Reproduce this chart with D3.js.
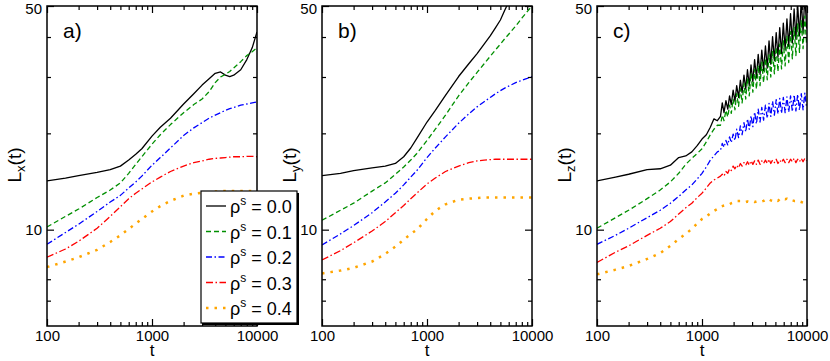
<!DOCTYPE html>
<html>
<head>
<meta charset="utf-8">
<script src="https://cdn.jsdelivr.net/npm/d3@7"></script>
<style>
  body { margin: 0; background: #fff; }
  text { font-family: "Liberation Sans", Arial, Helvetica, sans-serif; }
</style>
</head>
<body>
<div id="chart"></div>
<script>
// L(t) for several rho^s, three directions, log-log

var width = 830, height = 361;

// time grid for panels a) and b)
var tAB = [100, 150, 200, 300, 400, 500, 600, 700, 800, 1000, 1200, 1500, 2000, 2500, 3000,
           3500, 4000, 4500, 5000, 5500, 6000, 7000, 8000, 9000, 10000];

// a) L_x(t)
var lx00 = [14.2, 14.5, 14.75, 15.1, 15.4, 15.8, 16.5, 17.2, 17.9, 19.6, 20.9, 22.3, 24.7, 26.6, 28.3,
            29.6, 30.8, 31.1, 30.4, 30.1, 30.4, 31.6, 34.0, 37.0, 41.5];
var lx01 = [10.2, 11.0, 11.6, 12.6, 13.3, 14.0, 15.0, 16.0, 16.9, 18.5, 19.8, 21.3, 23.2, 24.6, 25.6,
            27.0, 28.8, 30.0, 30.6, 31.2, 32.0, 33.5, 35.0, 36.0, 37.0];
var lx02 = [9.0, 9.8, 10.4, 11.4, 12.2, 12.8, 13.5, 14.1, 14.7, 15.9, 16.8, 18.0, 19.7, 20.8, 21.6,
            22.3, 22.8, 23.2, 23.6, 23.9, 24.1, 24.5, 24.7, 24.9, 25.1];
var lx03 = [8.2, 8.7, 9.2, 10.1, 11.0, 11.8, 12.5, 13.0, 13.4, 14.1, 14.6, 15.2, 15.8, 16.2, 16.4,
            16.6, 16.7, 16.75, 16.8, 16.85, 16.9, 16.9, 16.95, 16.95, 16.9];
var lx04 = [7.64, 7.95, 8.2, 8.65, 9.15, 9.6, 10.05, 10.45, 10.8, 11.4, 11.85, 12.3, 12.77, 12.95, 13.05,
            13.1, 13.15, 13.2, 13.2, 13.2, 13.2, 13.2, 13.2, 13.2, 13.2];

// b) L_y(t)
var ly00 = [14.75, 15.0, 15.3, 15.6, 15.8, 16.1, 16.9, 18.0, 19.3, 21.7, 23.6, 26.3, 30.1, 33.0, 35.5,
            38.0, 40.3, 42.8, 45.2, 48.5, 51.5];
var ly01 = [10.7, 11.5, 12.1, 13.2, 14.0, 14.9, 15.7, 16.5, 17.3, 19.0, 20.6, 22.8, 26.2, 28.8, 31.0,
            33.0, 34.8, 36.5, 38.0, 39.5, 40.8, 43.3, 45.8, 48.0, 50.0];
var ly02 = [8.96, 9.7, 10.3, 11.3, 12.2, 13.0, 13.8, 14.6, 15.3, 16.8, 18.0, 19.5, 21.5, 23.0, 24.2,
            25.1, 25.9, 26.6, 27.2, 27.7, 28.1, 28.8, 29.3, 29.7, 30.1];
var ly03 = [8.04, 8.6, 9.1, 9.9, 10.6, 11.3, 11.9, 12.5, 13.0, 13.9, 14.5, 15.2, 15.8, 16.2, 16.4,
            16.5, 16.55, 16.6, 16.6, 16.6, 16.6, 16.6, 16.6, 16.6, 16.6];
var ly04 = [7.3, 7.45, 7.6, 7.95, 8.4, 8.85, 9.3, 9.7, 10.0, 10.8, 11.45, 12.0, 12.4, 12.5, 12.55,
            12.6, 12.6, 12.6, 12.6, 12.6, 12.6, 12.6, 12.6, 12.6, 12.6];

// time grid for panel c) (denser, the curves are noisy there)
var tC = [100, 150, 200, 300, 400, 500, 600, 700, 800, 900, 1000, 1100, 1200, 1300, 1400,
          1500, 1560, 1620, 1690, 1760, 1830, 1900, 1980, 2060, 2140,
          2230, 2320, 2410, 2510, 2610, 2710, 2820, 2930, 3050, 3170,
          3300, 3430, 3570, 3710, 3860, 4020, 4180, 4350, 4520, 4700,
          4890, 5090, 5290, 5500, 5720, 5950, 6190, 6440, 6700, 6970,
          7250, 7540, 7840, 8150, 8480, 8820, 9170, 9540, 9920];

// c) L_z(t)
var lz00 = [14.2, 14.6, 14.9, 15.4, 15.5, 15.9, 16.8, 17.0, 17.5, 18.3, 19.2, 19.8, 20.9, 22.2, 21.9,
            22.6, 24.9, 23.2, 25.3, 23.8, 26.2, 24.6, 27.3, 25.2, 28.2,
            25.9, 29.3, 26.8, 30.4, 27.5, 31.6, 28.2, 32.7, 29.0, 34.0,
            29.8, 35.3, 30.6, 36.4, 31.4, 37.5, 32.0, 38.9, 32.9, 40.1,
            33.8, 41.3, 34.6, 42.8, 35.5, 44.2, 36.5, 45.6, 37.4, 47.3,
            38.3, 49.0, 39.4, 50.6, 40.3, 52.5, 41.2, 54.0, 42.5];
var lz01 = [10.1, 10.9, 11.5, 12.5, 13.3, 14.1, 15.0, 16.0, 16.7, 17.3, 17.9, 18.8, 19.8, 20.6, 21.2,
            21.2, 22.8, 21.9, 23.6, 22.5, 24.5, 23.1, 25.6, 23.7, 26.6,
            24.3, 27.6, 24.9, 28.6, 25.6, 29.7, 26.2, 30.8, 26.9, 31.7,
            27.5, 32.6, 28.2, 33.4, 28.8, 34.3, 29.4, 35.2, 30.0, 36.2,
            30.7, 37.2, 31.2, 38.0, 31.8, 39.0, 32.5, 40.4, 33.3, 41.6,
            34.2, 42.8, 35.0, 44.0, 35.8, 45.2, 36.8, 46.5, 37.8];
var lz02 = [9.0, 9.6, 10.1, 10.9, 11.5, 12.1, 12.7, 13.3, 13.8, 14.4, 15.0, 15.7, 16.5, 17.0, 17.5,
            17.7, 18.6, 18.1, 19.0, 18.4, 19.5, 18.7, 19.9, 19.0, 20.6,
            19.4, 21.1, 19.8, 21.6, 20.2, 22.2, 20.6, 22.7, 21.0, 23.3,
            21.4, 23.8, 21.7, 24.1, 22.0, 24.5, 22.3, 24.8, 22.6, 25.2,
            22.8, 25.5, 23.0, 25.7, 23.1, 25.9, 23.2, 26.0, 23.3, 26.2,
            23.4, 26.4, 23.5, 26.5, 23.6, 26.6, 23.7, 26.7, 24.0];
var lz03 = [7.9, 8.5, 8.9, 9.6, 10.1, 10.6, 11.2, 11.7, 12.1, 12.6, 13.0, 13.5, 14.0, 14.3, 14.5,
            14.7, 14.9, 14.7, 15.2, 15.0, 15.5, 15.3, 15.8, 15.5, 15.9,
            15.6, 16.1, 15.8, 16.2, 15.9, 16.3, 15.9, 16.4, 16.0, 16.4,
            16.0, 16.5, 16.0, 16.4, 16.1, 16.5, 16.1, 16.6, 16.1, 16.5,
            16.2, 16.6, 16.1, 16.5, 16.2, 16.6, 16.2, 16.6, 16.2, 16.6,
            16.3, 16.7, 16.2, 16.6, 16.3, 16.7, 16.3, 16.7, 16.4];
var lz04 = [7.25, 7.5, 7.7, 8.1, 8.45, 8.9, 9.35, 9.7, 10.05, 10.45, 10.8, 11.0, 11.25, 11.45, 11.6,
            11.8, 11.85, 11.9, 11.95, 12.0, 12.0, 12.1, 12.15, 12.2, 12.3,
            12.3, 12.3, 12.25, 12.2, 12.2, 12.25, 12.2, 12.2, 12.25, 12.2,
            12.25, 12.3, 12.3, 12.25, 12.3, 12.4, 12.5, 12.45, 12.35, 12.3,
            12.35, 12.4, 12.3, 12.45, 12.4, 12.5, 12.45, 12.5, 12.4, 12.45,
            12.35, 12.3, 12.3, 12.2, 12.25, 12.2, 12.15, 12.2, 12.15];

// legend / ticks
var rhoS = ["0.0", "0.1", "0.2", "0.3", "0.4"];
var xMajor = [100, 1000, 10000];
var xMinor = [200, 300, 400, 500, 600, 700, 800, 900, 2000, 3000, 4000, 5000, 6000, 7000, 8000, 9000];
var yMajor = [10, 50];
var yMinor = [6, 7, 20, 30, 40];

var styles = [
  { color: "#000000", dash: null, w: 1.3 },
  { color: "#008f00", dash: "5,3", w: 1.3 },
  { color: "#0000ff", dash: "6,2.5,1.5,2.5", w: 1.3 },
  { color: "#ff0000", dash: "7,2.5,1.5,2.5", w: 1.3 },
  { color: "#ffa500", dash: "2.5,6", w: 2.5 }
];

var panels = [
  { x0: 47,  tag: "a)", sub: "x", t: tAB, series: [lx00, lx01, lx02, lx03, lx04] },
  { x0: 322, tag: "b)", sub: "y", t: tAB, series: [ly00, ly01, ly02, ly03, ly04] },
  { x0: 597, tag: "c)", sub: "z", t: tC,  series: [lz00, lz01, lz02, lz03, lz04] }
];

var pw = 210, yTop = 6, yBot = 326;

var svg = d3.select("#chart")
  .append("svg")
  .attr("width", width)
  .attr("height", height);

var defs = svg.append("defs");

panels.forEach(function(p, pi) {
  var x = d3.scaleLog().domain([100, 10000]).range([p.x0, p.x0 + pw]);
  var y = d3.scaleLog().domain([5, 50]).range([yBot, yTop]);

  defs.append("clipPath").attr("id", "clip" + pi)
    .append("rect")
    .attr("x", p.x0).attr("y", yTop)
    .attr("width", pw).attr("height", yBot - yTop);

  var line = d3.line()
    .x(function(d) { return x(d[0]); })
    .y(function(d) { return y(d[1]); });

  var g = svg.append("g").attr("clip-path", "url(#clip" + pi + ")");
  p.series.forEach(function(vals, si) {
    var pts = vals.map(function(v, i) { return [p.t[i], v]; });
    g.append("path")
      .attr("d", line(pts))
      .attr("fill", "none")
      .attr("stroke", styles[si].color)
      .attr("stroke-width", styles[si].w)
      .attr("stroke-dasharray", styles[si].dash)
      .attr("stroke-linejoin", "round");
  });

  // ticks, all four sides, pointing in
  function strip(sel) { sel.select(".domain").remove(); }
  var fontSize = "15px";

  svg.append("g").attr("transform", "translate(0," + yBot + ")")
    .call(d3.axisBottom(x).tickValues(xMajor).tickSize(-7).tickPadding(4).tickFormat(d3.format("d")))
    .call(strip)
    .selectAll("text").attr("font-size", fontSize).attr("fill", "#000")
    .attr("font-family", "'Liberation Sans', Arial, sans-serif");
  svg.append("g").attr("transform", "translate(0," + yBot + ")")
    .call(d3.axisBottom(x).tickValues(xMinor).tickSize(-4).tickFormat(""))
    .call(strip);
  svg.append("g").attr("transform", "translate(0," + yTop + ")")
    .call(d3.axisTop(x).tickValues(xMajor).tickSize(-7).tickFormat(""))
    .call(strip);
  svg.append("g").attr("transform", "translate(0," + yTop + ")")
    .call(d3.axisTop(x).tickValues(xMinor).tickSize(-4).tickFormat(""))
    .call(strip);

  svg.append("g").attr("transform", "translate(" + p.x0 + ",0)")
    .call(d3.axisLeft(y).tickValues(yMajor).tickSize(-7).tickPadding(5).tickFormat(d3.format("d")))
    .call(strip)
    .selectAll("text").attr("font-size", fontSize).attr("fill", "#000")
    .attr("font-family", "'Liberation Sans', Arial, sans-serif")
    .attr("dy", function(d) { return d === 50 ? "0.5em" : "0.32em"; });
  svg.append("g").attr("transform", "translate(" + p.x0 + ",0)")
    .call(d3.axisLeft(y).tickValues(yMinor).tickSize(-4).tickFormat(""))
    .call(strip);
  svg.append("g").attr("transform", "translate(" + (p.x0 + pw) + ",0)")
    .call(d3.axisRight(y).tickValues(yMajor).tickSize(-7).tickFormat(""))
    .call(strip);
  svg.append("g").attr("transform", "translate(" + (p.x0 + pw) + ",0)")
    .call(d3.axisRight(y).tickValues(yMinor).tickSize(-4).tickFormat(""))
    .call(strip);

  svg.selectAll(".tick line").attr("stroke", "#000").attr("stroke-width", 1.2);

  // frame
  svg.append("rect")
    .attr("x", p.x0).attr("y", yTop)
    .attr("width", pw).attr("height", yBot - yTop)
    .attr("fill", "none").attr("stroke", "#000").attr("stroke-width", 1.5);

  // panel tag
  svg.append("text")
    .attr("x", p.x0 + 16).attr("y", 38)
    .attr("font-size", "21px")
    .text(p.tag);

  // axis titles
  svg.append("text")
    .attr("x", p.x0 + pw / 2).attr("y", 356)
    .attr("text-anchor", "middle")
    .attr("font-size", "17px")
    .text("t");

  var yl = svg.append("text")
    .attr("transform", "translate(" + (p.x0 - 26) + ",165) rotate(-90)")
    .attr("text-anchor", "middle")
    .attr("font-size", "19px");
  yl.append("tspan").text("L");
  yl.append("tspan").attr("dy", 4).attr("font-size", "13px").text(p.sub);
  yl.append("tspan").attr("dy", -4).text("(t)");
});

// legend (inside panel a)
var lg = svg.append("g");
lg.append("rect")
  .attr("x", 203).attr("y", 193).attr("width", 96).attr("height", 132)
  .attr("fill", "#000");
lg.append("rect")
  .attr("x", 201).attr("y", 191).attr("width", 96).attr("height", 132)
  .attr("fill", "#fff").attr("stroke", "#000").attr("stroke-width", 1.2);

var legY = d3.scalePoint().domain(rhoS).range([206, 308]);
rhoS.forEach(function(r, i) {
  var yy = legY(r);
  lg.append("line")
    .attr("x1", 206).attr("x2", 226).attr("y1", yy).attr("y2", yy)
    .attr("stroke", styles[i].color)
    .attr("stroke-width", styles[i].w)
    .attr("stroke-dasharray", styles[i].dash);
  var tx = lg.append("text")
    .attr("x", 230).attr("y", yy + 7)
    .attr("font-size", "18px");
  tx.append("tspan").text("\u03c1");
  tx.append("tspan").attr("dy", -8).attr("font-size", "12px").text("s");
  tx.append("tspan").attr("dy", 8).text(" = " + r);
});
</script>
</body>
</html>
